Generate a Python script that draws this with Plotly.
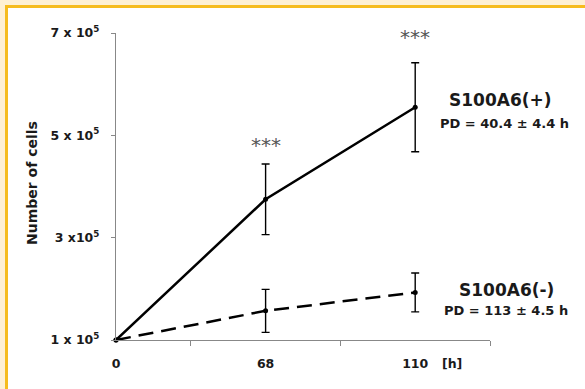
import plotly.graph_objects as go

# ---- data ----
hours = ["0", "68", "110"]
plus_cells = [1.0e5, 3.75e5, 5.55e5]
plus_err = [0, 0.69e5, 0.87e5]
minus_cells = [1.0e5, 1.57e5, 1.93e5]
minus_err = [0, 0.42e5, 0.38e5]
y_tickvals = [1e5, 3e5, 5e5, 7e5]
y_ticktext = ["1 x 10<sup>5</sup>", "3 x10<sup>5</sup>", "5 x 10<sup>5</sup>", "7 x 10<sup>5</sup>"]
sig_labels = ["***", "***"]
sig_hours = ["68", "110"]
sig_y = [4.81e5, 6.92e5]

W, H = 585, 389
L, R, T, B = 116, 95, 33, 49
PW = W - L - R
PH = H - T - B

def px(x):
    return (x - L) / PW

def py(y):
    return (H - B - y) / PH

FONT = "DejaVu Sans"
TXT = "#1a1a1a"

fig = go.Figure()
fig.add_trace(go.Scatter(
    x=hours, y=plus_cells, mode="lines+markers",
    line=dict(color="black", width=2.5),
    marker=dict(color="black", size=5),
    error_y=dict(type="data", array=plus_err, color="black", thickness=1.4, width=4),
    cliponaxis=False, showlegend=False,
))
fig.add_trace(go.Scatter(
    x=hours, y=minus_cells, mode="lines+markers",
    line=dict(color="black", width=2.5, dash="15px,8px"),
    marker=dict(color="black", size=5),
    error_y=dict(type="data", array=minus_err, color="black", thickness=1.4, width=4),
    cliponaxis=False, showlegend=False,
))

# background card with yellow border
fig.add_shape(type="rect", xref="paper", yref="paper",
              x0=px(6.5), x1=px(620), y0=py(420), y1=py(6.5),
              fillcolor="white", line=dict(color="#F6BC1E", width=3), layer="below")

def txt(x, y, text, size, color=TXT, **kw):
    d = dict(x=x, y=y, xref="paper", yref="paper", text=text, showarrow=False,
             xanchor="center", yanchor="middle",
             font=dict(family=FONT, size=size, color=color))
    d.update(kw)
    return d

ann = []
for t, hx, yy in zip(sig_labels, sig_hours, sig_y):
    ann.append(dict(x=hours.index(hx), y=yy, xref="x", yref="y", text=t, showarrow=False,
                    xanchor="center", yanchor="middle",
                    font=dict(family=FONT, size=20, color="#555555")))
ann += [
    txt(px(500), py(100), "<b>S100A6(+)</b>", 17),
    txt(px(504), py(123), "<b>PD = 40.4 ± 4.4 h</b>", 13),
    txt(px(506), py(290), "<b>S100A6(-)</b>", 17),
    txt(px(506), py(310), "<b>PD = 113 ± 4.5 h</b>", 13),
    txt(px(452), py(363), "<b>[h]</b>", 12.5),
    txt(px(32), py(183), "<b>Number of cells</b>", 14, textangle=-90),
]

fig.update_layout(
    width=W, height=H,
    margin=dict(l=L, r=R, t=T, b=B, pad=0),
    paper_bgcolor="#FEF0D3", plot_bgcolor="white",
    annotations=ann,
    font=dict(family=FONT, color=TXT),
    xaxis=dict(type="category", range=[0, 2.5], showgrid=False, zeroline=False,
               showline=True, linecolor="#888888", linewidth=1.2,
               ticks="outside", ticklen=5, tickcolor="#888888", tickwidth=1.2,
               tickson="boundaries", ticklabelstandoff=12,
               tickfont=dict(family=FONT, size=12.5, color=TXT, weight="bold")),
    yaxis=dict(range=[1e5, 7e5], showgrid=False, zeroline=False,
               showline=True, linecolor="#888888", linewidth=1.2,
               ticks="outside", ticklen=4, tickcolor="#888888", tickwidth=1.2,
               tickvals=y_tickvals, ticktext=y_ticktext, ticklabelstandoff=9,
               tickfont=dict(family=FONT, size=12.5, color=TXT, weight="bold")),
)

fig.write_html("out.html", config={"displayModeBar": False},
               post_script="document.body.style.margin='0';document.body.style.overflow='hidden';")
